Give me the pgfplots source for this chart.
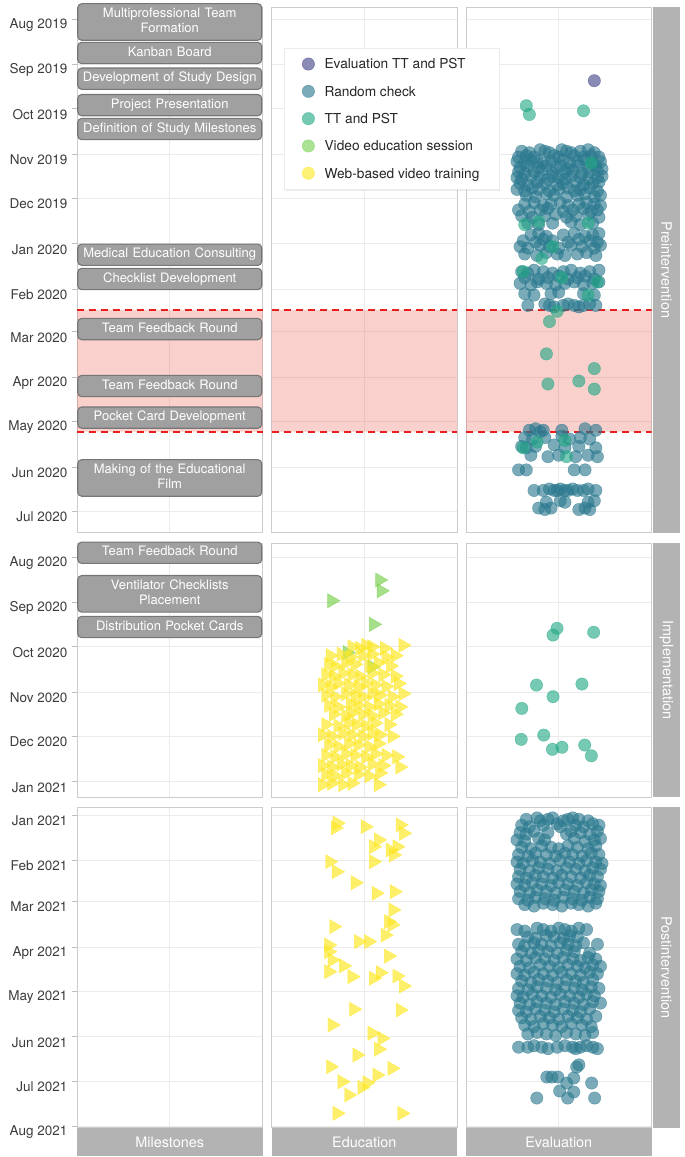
\documentclass[border=0pt]{standalone}
\usepackage{fontspec}
\setmainfont{TeX Gyre Heros}
\usepackage{pgfplots}
\pgfplotsset{compat=1.18}
\usetikzlibrary{shadows}
\definecolor{cA}{HTML}{414487}
\definecolor{cB}{HTML}{2A788E}
\definecolor{cC}{HTML}{22A884}
\definecolor{cD}{HTML}{7AD151}
\definecolor{cE}{HTML}{FDE725}
\definecolor{gridc}{RGB}{235,235,235}
\definecolor{framec}{RGB}{204,204,204}
\definecolor{stripc}{RGB}{179,179,179}
\definecolor{boxc}{RGB}{160,160,160}
\definecolor{boxb}{RGB}{118,118,118}
\definecolor{bandc}{RGB}{235,80,70}
\definecolor{dashc}{RGB}{235,30,30}
\definecolor{tickc}{RGB}{60,60,60}
\definecolor{tickm}{RGB}{190,190,190}
\newcommand{\TL}[1]{\mbox{\raisebox{-5.5pt}[\height][\depth]{\fontsize{13.5}{16}\selectfont #1}}}
\tikzset{
  ms/.style={fill=boxc, draw=boxb, line width=1.1pt, rounded corners=4pt, text=white,
    font=\fontsize{13}{15.3}\selectfont, text width=176pt, align=center, inner xsep=4pt, inner ysep=3pt},
  band/.style={fill=bandc, draw=none, opacity=0.27},
  dashl/.style={dashc, line width=1.8pt, dash pattern=on 7pt off 5pt},
}
\pgfplotsset{
  panel/.style={scale only axis, width=185.5pt, anchor=north west,
    xmin=0.4, xmax=1.6, y dir=reverse, xtick={1}, xticklabels={},
    xmajorgrids, ymajorgrids, grid style={gridc, line width=0.9pt},
    axis line style={framec, line width=0.9pt},
    xtick style={draw=none}, ytick style={draw=none}, major tick length=0pt,
    yticklabels={}},
  leftticks/.style={ytick pos=left, tick align=outside, major tick length=5pt,
    ytick style={draw=tickm, line width=0.9pt},
    yticklabel style={text=tickc, inner xsep=4.5pt}},
  rc/.style={only marks, mark=*, mark size=6.2pt, color=#1, opacity=0.62, mark options={draw=none}},
  tri/.style={only marks, mark=triangle*, mark size=8.2pt, color=#1, opacity=0.68, mark options={draw=none, rotate=-90}},
}
\begin{document}
\begin{tikzpicture}
\useasboundingbox (0pt,0pt) rectangle (685pt,-1157pt);
%================ ROW 1 =================
\begin{axis}[panel, leftticks, at={(77pt,-7pt)}, height=525pt, ymin=-8.2, ymax=349.3, clip=false,
  ytick={0,31,61,92,122,153,184,213,244,274,305,335},
  yticklabels={\TL{Aug 2019},\TL{Sep 2019},\TL{Oct 2019},\TL{Nov 2019},\TL{Dec 2019},\TL{Jan 2020},\TL{Feb 2020},\TL{Mar 2020},\TL{Apr 2020},\TL{May 2020},\TL{Jun 2020},\TL{Jul 2020}}]
\addplot[band] coordinates {(0.4,198)(1.6,198)(1.6,281)(0.4,281)(0.4,198)};
\addplot[dashl] coordinates {(0.4,198)(1.6,198)};
\addplot[dashl] coordinates {(0.4,281)(1.6,281)};
\node[ms] at (axis cs:1,2) {\strut Multiprofessional Team\\\strut Formation};
\node[ms] at (axis cs:1,23.1) {\strut Kanban Board};
\node[ms] at (axis cs:1,40.6) {\strut Development of Study Design};
\node[ms] at (axis cs:1,58.6) {\strut Project Presentation};
\node[ms] at (axis cs:1,74.9) {\strut Definition of Study Milestones};
\node[ms] at (axis cs:1,160.5) {\strut Medical Education Consulting};
\node[ms] at (axis cs:1,177) {\strut Checklist Development};
\node[ms] at (axis cs:1,211.1) {\strut Team Feedback Round};
\node[ms] at (axis cs:1,249.9) {\strut Team Feedback Round};
\node[ms] at (axis cs:1,271.4) {\strut Pocket Card Development};
\node[ms] at (axis cs:1,312.5) {\strut Making of the Educational\\\strut Film};
\end{axis}
\begin{axis}[panel, at={(271.5pt,-7pt)}, height=525pt, ymin=-8.2, ymax=349.3,
  ytick={0,31,61,92,122,153,184,213,244,274,305,335}]
\addplot[band] coordinates {(0.4,198)(1.6,198)(1.6,281)(0.4,281)(0.4,198)};
\addplot[dashl] coordinates {(0.4,198)(1.6,198)};
\addplot[dashl] coordinates {(0.4,281)(1.6,281)};
\end{axis}
\begin{axis}[panel, at={(466pt,-7pt)}, height=525pt, ymin=-8.2, ymax=349.3,
  ytick={0,31,61,92,122,153,184,213,244,274,305,335},
  legend cell align=left,
  legend style={at={(-0.9785,0.9219)}, anchor=north west, draw=black!8, fill=white,
    font=\fontsize{13.7}{16}\selectfont, text=black!85, inner xsep=11.5pt, inner ysep=7.5pt,
    row sep=10.6pt, drop shadow={opacity=0.15, shadow xshift=1pt, shadow yshift=-1.5pt}},
  legend image code/.code={\draw[#1] plot coordinates {(0pt,0pt)};\path (-12pt,0pt) (14pt,0pt);}]
\addlegendimage{rc=cA}\addlegendentry{\strut Evaluation TT and PST}
\addlegendimage{rc=cB}\addlegendentry{\strut Random check}
\addlegendimage{rc=cC}\addlegendentry{\strut TT and PST}
\addlegendimage{rc=cD}\addlegendentry{\strut Video education session}
\addlegendimage{rc=cE}\addlegendentry{\strut Web-based video training\hspace*{6pt}}
% Random check
\addplot[rc=cB, forget plot] coordinates {
(0.76,90)(0.81,91)(0.88,89)(0.91,90)(0.94,91)(1.02,89)(1.05,90)(1.08,91)(1.14,90)(1.19,89)(1.23,91)
(0.74,94)(0.79,93)(0.84,94)(0.97,93)(1.00,94)(1.10,93)(1.16,94)(1.21,93)(1.26,94)
(0.73,97)(0.78,98)(0.82,96)(0.86,97)(0.90,98)(0.95,97)(1.03,96)(1.07,98)(1.12,97)(1.17,96)(1.22,98)(1.27,97)
(0.75,101)(0.80,100)(0.87,101)(0.92,100)(0.98,101)(1.01,100)(1.06,102)(1.13,100)(1.19,101)(1.24,100)(1.28,102)
(0.74,104)(0.78,105)(0.84,104)(0.89,103)(0.96,105)(1.04,104)(1.09,103)(1.15,105)(1.20,104)(1.25,103)
(0.73,108)(0.76,109)(0.82,107)(0.88,108)(0.93,109)(0.96,107)(1.00,108)(1.04,109)(1.08,107)(1.14,108)(1.19,109)(1.25,108)(1.28,107)
(0.75,112)(0.80,113)(0.86,111)(0.91,112)(0.99,113)(1.03,112)(1.11,111)(1.16,113)(1.22,112)(1.26,111)
(0.73,116)(0.78,117)(0.83,115)(0.87,116)(0.94,117)(1.00,116)(1.06,115)(1.10,117)(1.14,116)(1.20,115)(1.25,117)
(0.79,120)(0.85,121)(0.92,119)(0.97,120)(1.05,121)(1.12,120)(1.17,119)(1.23,121)(1.27,120)
(0.78,126)(0.84,125)(0.90,127)(0.95,126)(1.01,125)(1.06,127)(1.13,126)(1.18,125)(1.23,126)(1.27,127)
(0.74,130)(0.81,131)(0.88,130)(0.93,129)(1.03,131)(1.09,130)(1.16,129)(1.21,131)(1.25,130)
(0.76,134)(0.83,135)(0.91,134)(0.98,133)(1.05,135)(1.11,134)(1.19,133)(1.26,135)
(0.80,139)(0.87,140)(0.96,139)(1.08,138)(1.14,140)(1.22,139)
(0.82,147)(0.87,146)(0.92,148)(1.03,147)(1.10,146)(1.17,148)(1.22,147)(1.26,146)
(0.77,151)(0.85,152)(0.90,150)(0.96,151)(1.06,152)(1.13,150)(1.20,151)(1.25,152)
(0.75,155)(0.80,156)(0.88,154)(0.94,155)(1.00,156)(1.08,154)(1.15,155)(1.23,156)(1.27,154)
(0.78,160)(0.86,161)(0.92,159)(0.99,160)(1.04,161)(1.12,160)(1.18,159)(1.24,161)
(0.76,172)(0.80,173)(0.84,171)(0.90,172)(0.96,173)(1.03,172)(1.08,171)(1.14,173)(1.20,172)(1.26,171)
(0.78,176)(0.87,177)(0.93,176)(1.00,175)(1.06,177)(1.12,176)(1.17,175)(1.23,177)
(0.75,180)(0.82,181)(0.86,179)(0.92,180)(0.98,181)(1.04,180)(1.10,179)(1.16,181)(1.22,180)(1.26,179)
(0.78,187)(0.84,188)(0.95,187)(1.00,186)(1.16,187)(1.23,188)
(0.80,195)(0.91,194)(0.94,195)(0.97,196)(1.03,195)(1.06,194)(1.10,195)(1.13,196)(1.16,195)(1.20,194)(1.24,195)
(0.81,280)(0.85,279)(0.88,281)(0.90,280)(1.02,280)(1.17,279)(1.24,280)
(0.78,285)(0.83,286)(0.91,285)(1.02,284)(1.07,286)(1.14,285)(1.20,286)
(0.76,291)(0.79,292)(0.85,291)(0.97,290)(1.04,292)(1.13,291)(1.24,292)
(0.82,297)(0.93,298)(1.00,297)(1.11,298)(1.19,297)(1.25,298)
(0.74,307)(0.79,307)(1.10,307)(1.17,307)
(0.84,321)(0.90,321)(0.94,320)(0.97,321)(0.99,321)(1.01,320)(1.04,321)(1.06,321)(1.09,320)(1.12,321)(1.16,321)(1.19,320)(1.24,321)
(0.92,329)(1.01,328)(1.04,329)(1.19,329)(1.23,328)
(0.87,333)(0.91,334)(0.95,333)(1.13,334)(1.17,333)(1.20,334)
};
% TT and PST
\addplot[rc=cC, forget plot] coordinates {
(0.79,59)(0.81,65)(1.16,62.5)(1.21,98)(0.78,140)(0.87,138)(1.19,139)(0.96,155)(0.89,163)
(0.77,172)(1.02,176)(1.25,179)(1.19,188)(0.86,288)(0.77,292)(1.04,287)(1.05,298)
(0.99,199)(0.94,206)(0.92,228)(1.23,238)(0.93,248.5)(1.13,246.5)(1.23,252)
};
% Evaluation TT and PST
\addplot[rc=cA, forget plot] coordinates {(1.23,42)};
\addplot[band, forget plot] coordinates {(0.4,198)(1.6,198)(1.6,281)(0.4,281)(0.4,198)};
\addplot[dashl, forget plot] coordinates {(0.4,198)(1.6,198)};
\addplot[dashl, forget plot] coordinates {(0.4,281)(1.6,281)};
\end{axis}
%================ ROW 2 =================
\begin{axis}[panel, leftticks, at={(77pt,-543pt)}, height=254pt, ymin=356.25, ymax=529.4, clip=false,
  ytick={366,397,427,458,488,519},
  yticklabels={\TL{Aug 2020},\TL{Sep 2020},\TL{Oct 2020},\TL{Nov 2020},\TL{Dec 2020},\TL{Jan 2021}}]
\node[ms] at (axis cs:1,362.9) {\strut Team Feedback Round};
\node[ms] at (axis cs:1,390.9) {\strut Ventilator Checklists\\\strut Placement};
\node[ms] at (axis cs:1,413.5) {\strut Distribution Pocket Cards};
\end{axis}
\begin{axis}[panel, at={(271.5pt,-543pt)}, height=254pt, ymin=356.25, ymax=529.4,
  ytick={366,397,427,458,488,519}]
\addplot[tri=cD] coordinates {(1.10,381.5)(1.11,388.8)(0.79,395.6)(1.06,411.7)(0.89,431)(1.05,440.6)};
\addplot[tri=cE] coordinates {
(0.92,427)(0.97,428)(1.01,426)(1.05,427)(1.13,428)(1.25,426)
(0.78,433)(0.85,432)(0.91,434)(0.99,433)(1.05,432)(1.14,434)(1.20,433)
(0.77,439)(0.81,440)(0.88,438)(0.94,439)(1.03,440)(1.09,438)(1.17,440)
(0.75,446)(0.80,447)(0.86,445)(0.92,446)(0.97,447)(1.05,445)(1.12,446)(1.20,447)
(0.73,453)(0.78,454)(0.83,452)(0.90,453)(0.96,454)(1.01,452)(1.07,453)(1.14,454)(1.22,452)
(0.75,460)(0.81,461)(0.88,459)(0.94,460)(0.99,461)(1.05,459)(1.10,460)(1.18,461)(1.25,459)
(0.77,467)(0.83,468)(0.91,466)(0.96,467)(1.03,468)(1.09,466)(1.16,467)(1.23,468)
(0.80,473)(0.88,474)(0.92,472)(0.99,473)(1.05,474)(1.12,472)(1.20,473)
(0.75,480)(0.83,481)(0.90,479)(0.95,480)(1.01,481)(1.07,479)(1.16,480)
(0.73,487)(0.79,488)(0.86,486)(0.92,487)(0.99,488)(1.05,486)(1.10,487)(1.18,488)
(0.77,494)(0.83,495)(0.90,493)(0.96,494)(1.03,495)(1.09,493)
(0.75,501)(0.81,502)(0.88,500)(0.94,501)(1.01,502)(1.07,500)(1.14,501)(1.21,502)
(0.73,508)(0.79,509)(0.85,507)(0.91,508)(0.97,509)(1.05,507)(1.12,508)(1.23,509)
(0.75,514)(0.81,515)(0.88,513)(0.96,514)(1.03,515)(1.10,513)
(0.73,521)(0.79,520)(0.86,521)(0.92,520)(1.09,521)
};
\end{axis}
\begin{axis}[panel, at={(466pt,-543pt)}, height=254pt, ymin=356.25, ymax=529.4,
  ytick={366,397,427,458,488,519}]
\addplot[rc=cC] coordinates {(0.989,414.4)(0.963,419)(1.226,417.1)(0.856,453.1)(1.15,452.4)(0.963,461)(0.761,469)(0.903,487.2)(0.757,490.1)(0.959,496.9)(1.021,495.5)(1.168,494)(1.211,501.3)};
\end{axis}
%================ ROW 3 =================
\begin{axis}[panel, leftticks, at={(77pt,-807pt)}, height=320pt, ymin=513.6, ymax=731.3,
  ytick={519,550,578,609,639,670,700,731},
  yticklabels={\TL{Jan 2021},\TL{Feb 2021},\TL{Mar 2021},\TL{Apr 2021},\TL{May 2021},\TL{Jun 2021},\TL{Jul 2021},\TL{Aug 2021}}]
\end{axis}
\begin{axis}[panel, at={(271.5pt,-807pt)}, height=320pt, ymin=513.6, ymax=731.3,
  ytick={519,550,578,609,639,670,700,731}]
\addplot[tri=cE] coordinates {
(0.824,524.6)(0.813,527.8)(1.006,527)(1.232,525.8)(1.254,531.5)(1.092,536)(1.06,540.6)(1.168,542.8)
(1.211,540.6)(1.189,546.2)(1.06,550.8)(0.776,550.8)(0.819,557.6)(0.942,565.1)(1.077,572.3)(1.194,571.2)
(1.185,583.6)(0.802,595)(1.179,593.8)(1.157,591.6)(0.963,605.2)(1.028,605.2)(1.135,600.7)(0.77,607.5)
(0.77,612)(0.792,617.7)(0.866,621.7)(0.77,625.6)(0.921,629)(1.06,630.1)(1.103,626.3)(1.157,615)
(1.211,628.6)(1.254,635.4)(0.931,651.2)(1.232,651.7)(0.792,661.9)(1.05,667.5)(1.114,671)(0.953,682.3)
(1.092,678.4)(0.781,690.3)(1.179,691.4)(0.856,700.5)(1.017,701.2)(0.985,704.3)(0.899,709.5)(0.824,722)
(1.243,722)(1.082,696)
};
\end{axis}
\begin{axis}[panel, at={(466pt,-807pt)}, height=320pt, ymin=513.6, ymax=731.3,
  ytick={519,550,578,609,639,670,700,731}]
\addplot[rc=cB] coordinates {
(0.79,522)(0.86,521)(0.88,523)(0.93,522)(0.96,521)(1.03,523)(1.06,522)(1.09,521)(1.13,522)(1.19,523)
(0.76,526)(0.81,527)(0.90,526)(0.99,525)(1.01,527)(1.11,526)(1.16,527)(1.22,525)(1.26,526)
(0.75,531)(0.79,532)(0.84,530)(0.93,531)(1.05,532)(1.08,530)(1.14,531)(1.20,532)(1.25,530)
(0.73,536)(0.78,537)(0.87,535)(0.91,536)(1.10,535)(1.17,537)(1.23,536)(1.27,535)
(0.76,541)(0.82,542)(0.89,540)(0.95,541)(1.00,542)(1.06,540)(1.12,541)(1.19,542)(1.24,540)
(0.74,546)(0.80,547)(0.85,545)(0.92,546)(0.98,547)(1.04,545)(1.09,546)(1.15,547)(1.21,545)(1.26,546)
(0.73,551)(0.77,552)(0.83,550)(0.88,551)(0.94,552)(1.01,550)(1.07,551)(1.13,552)(1.18,550)(1.24,551)(1.28,552)
(0.75,556)(0.81,557)(0.87,555)(0.93,556)(0.99,557)(1.05,555)(1.11,556)(1.17,557)(1.22,555)(1.27,556)
(0.74,561)(0.79,562)(0.85,560)(0.90,561)(0.96,562)(1.02,560)(1.08,561)(1.14,562)(1.20,560)(1.25,561)
(0.73,566)(0.78,567)(0.83,565)(0.89,566)(0.95,567)(1.00,565)(1.06,566)(1.12,567)(1.18,565)(1.23,566)(1.27,567)
(0.75,571)(0.81,572)(0.86,570)(0.92,571)(0.98,572)(1.04,570)(1.10,571)(1.16,572)(1.21,570)(1.26,571)
(0.74,576)(0.80,577)(0.85,575)(0.91,576)(0.97,577)(1.03,575)(1.09,576)(1.15,577)(1.20,575)(1.25,576)
(0.78,580)(0.84,581)(0.90,579)(0.96,580)(1.02,581)(1.08,579)(1.13,580)(1.19,581)(1.24,579)
(0.73,597)(0.78,598)(0.86,596)(0.90,597)(0.95,598)(1.00,596)(1.04,597)(1.08,598)(1.13,596)(1.18,597)
(0.80,602)(0.85,603)(0.92,601)(0.97,602)(1.03,603)(1.07,601)(1.12,602)
(0.74,607)(0.78,608)(0.84,606)(0.89,607)(0.95,608)(1.01,606)(1.06,607)(1.11,608)(1.16,606)(1.25,607)
(0.76,612)(0.82,613)(0.87,611)(0.93,612)(0.99,613)(1.05,611)(1.10,612)(1.20,613)
(0.73,617)(0.79,618)(0.85,616)(0.91,617)(0.97,618)(1.03,616)(1.09,617)(1.14,618)(1.19,616)(1.24,617)
(0.75,622)(0.81,623)(0.88,621)(0.94,622)(1.00,623)(1.06,621)(1.12,622)(1.17,623)(1.22,621)(1.27,622)
(0.73,627)(0.78,628)(0.84,626)(0.90,627)(0.96,628)(1.02,626)(1.08,627)(1.14,628)(1.20,626)(1.25,627)
(0.76,632)(0.82,633)(0.87,631)(0.93,632)(0.99,633)(1.05,631)(1.11,632)(1.16,633)(1.22,631)
(0.74,637)(0.80,638)(0.86,636)(0.92,637)(0.98,638)(1.04,636)(1.10,637)(1.15,638)(1.21,636)(1.26,637)
(0.73,642)(0.77,643)(0.83,641)(0.89,642)(0.95,643)(1.01,641)(1.07,642)(1.13,643)(1.18,641)(1.23,642)
(0.75,647)(0.81,648)(0.86,646)(0.92,647)(0.98,648)(1.04,646)(1.10,647)(1.16,648)(1.22,646)(1.27,647)
(0.74,652)(0.79,653)(0.85,651)(0.91,652)(0.97,653)(1.03,651)(1.09,652)(1.14,653)(1.20,651)
(0.76,657)(0.82,658)(0.88,656)(0.94,657)(1.00,658)(1.06,656)(1.12,657)(1.18,658)(1.24,656)
(0.78,662)(0.84,663)(0.90,661)(0.96,662)(1.02,663)(1.08,661)(1.15,662)(1.21,663)
(0.80,668)(0.86,667)(0.92,668)(0.98,669)(1.05,667)(1.11,668)(1.17,669)(1.22,667)
(0.74,677)(0.80,677)(0.84,676)(0.89,677)(0.93,678)(0.99,677)(1.04,676)(1.09,677)(1.11,678)(1.14,677)(1.18,676)(1.22,677)(1.25,678)
(1.116,690.5)(1.13,689)(0.923,697.3)(0.955,697.3)(0.994,697.3)(1.097,698)(1.052,701.4)(1.213,701.4)
(1.006,706.8)(1.097,707.5)(0.858,711.6)(1.058,711.6)(1.232,711.6)
};
\end{axis}
%================ STRIPS =================
\begin{scope}[every node/.style={text=white, font=\fontsize{14.4}{17}\selectfont}]
\fill[stripc] (653pt,-7pt) rectangle (680pt,-532.5pt);
\node[rotate=-90] at (666.5pt,-269.75pt) {Preintervention};
\fill[stripc] (653pt,-543pt) rectangle (680pt,-797pt);
\node[rotate=-90] at (666.5pt,-670pt) {Implementation};
\fill[stripc] (653pt,-807pt) rectangle (680pt,-1128pt);
\node[rotate=-90] at (666.5pt,-967.5pt) {Postintervention};
\fill[stripc] (77pt,-1128pt) rectangle (262.5pt,-1156pt);
\node at (169.75pt,-1142pt) {Milestones};
\fill[stripc] (271.5pt,-1128pt) rectangle (457pt,-1156pt);
\node at (364.25pt,-1142pt) {Education};
\fill[stripc] (466pt,-1128pt) rectangle (651.5pt,-1156pt);
\node at (558.75pt,-1142pt) {Evaluation};
\end{scope}
\end{tikzpicture}
\end{document}
